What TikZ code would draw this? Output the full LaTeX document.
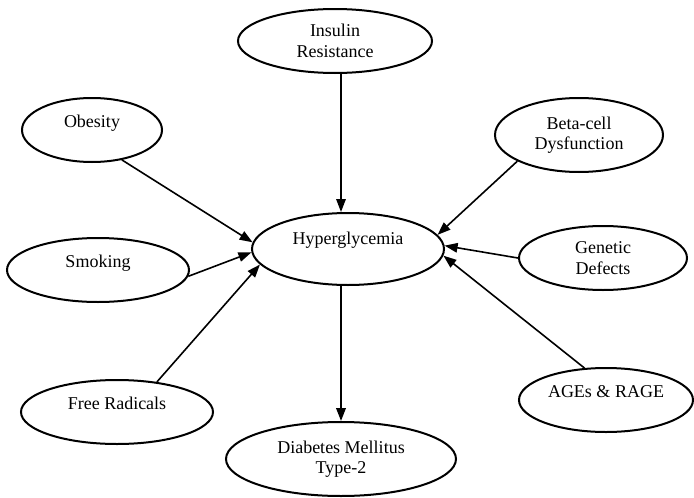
\documentclass[tikz,border=0pt]{standalone}
\usepackage{fontspec}
\setmainfont{Liberation Serif}
\usetikzlibrary{shapes.geometric,
				arrows.meta}

\begin{document}
\begin{tikzpicture}[x=1pt, y=-1pt,
		factor/.style={draw, ellipse, line width=2pt, inner sep=0pt, align=center,
			font=\fontsize{18}{20.5}\selectfont},
		lifted/.style={text depth=#1}, lifted/.default=17pt,
		arr/.style={line width=1.6pt, -{Triangle[length=13pt,width=9.5pt]}}]
	\useasboundingbox (0,0) rectangle (694,498);
	% causes
	\node[factor, minimum width=194pt, minimum height=64pt] (insulin) at (335,41) {Insulin\\Resistance};
	\node[factor, lifted, minimum width=140pt, minimum height=64pt] (obesity) at (92,130) {Obesity};
	\node[factor, minimum width=168pt, minimum height=74pt] (beta) at (579,135) {Beta-cell\\Dysfunction};
	\node[factor, lifted, minimum width=182pt, minimum height=64pt] (smoking) at (98,270) {Smoking};
	\node[factor, minimum width=168pt, minimum height=64pt] (genetic) at (603,258) {Genetic\\Defects};
	\node[factor, lifted, minimum width=192pt, minimum height=64pt] (radicals) at (117,412) {Free Radicals};
	\node[factor, lifted, minimum width=174pt, minimum height=64pt] (ages) at (606,400) {AGEs \& RAGE};
	% centre and outcome
	\node[factor, lifted=21pt, minimum width=192pt, minimum height=72pt] (hyper) at (348,249) {Hyperglycemia};
	\node[factor, minimum width=230pt, minimum height=74pt] (diabetes) at (341,459) {Diabetes Mellitus\\Type-2};

	\draw[arr] (insulin.south -| diabetes.north) -- (hyper.north -| diabetes.north);
	\draw[arr] (obesity.-45) -- (hyper.176);
	\draw[arr] (smoking.-4) -- (hyper.182);
	\draw[arr] (radicals.37) -- (hyper.190);
	\draw[arr] (beta.203) -- (hyper.9);
	\draw[arr] (genetic.180) -- (hyper.2);
	\draw[arr] (ages.124) -- (hyper.-4);
	\draw[arr, line width=2.2pt] (hyper.south -| diabetes.north) -- (diabetes.north);
\end{tikzpicture}
\end{document}
